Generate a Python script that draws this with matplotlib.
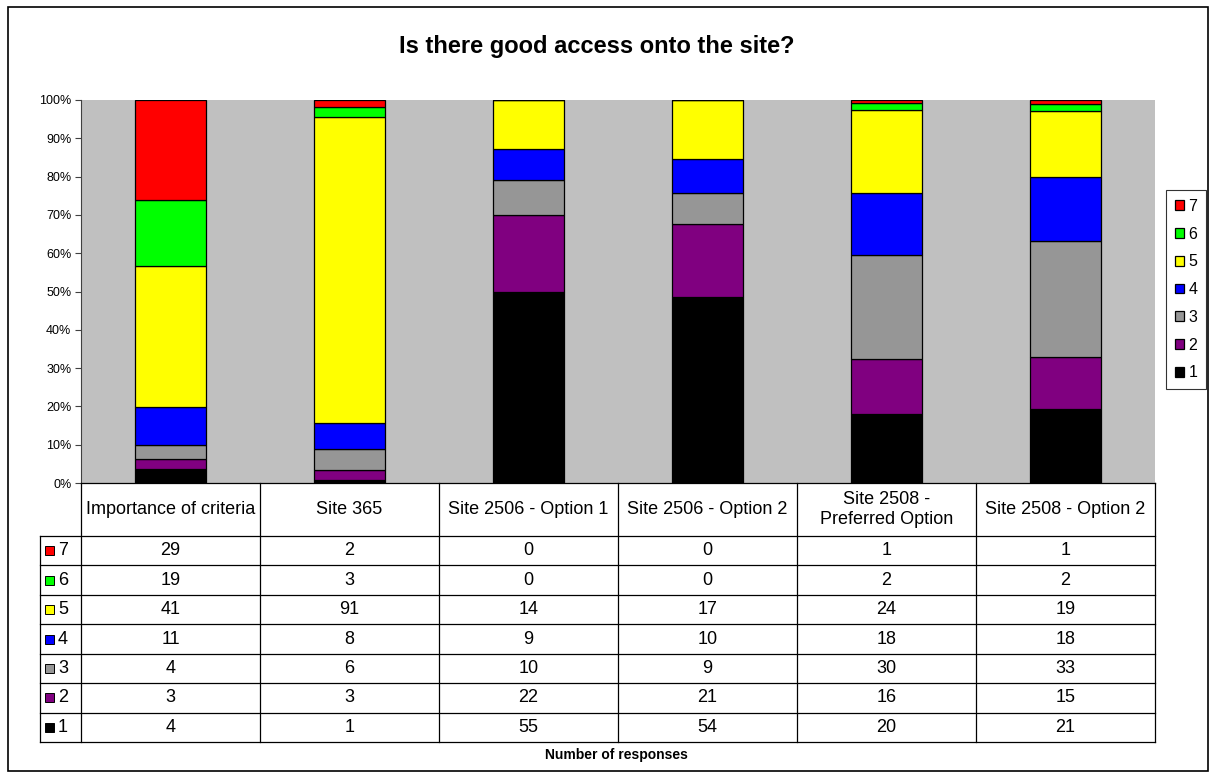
import matplotlib
matplotlib.use("Agg")
import numpy as np
import matplotlib.pyplot as plt
from matplotlib.patches import Rectangle
from matplotlib.ticker import PercentFormatter

plt.rcParams['font.family'] = ['Liberation Sans', 'DejaVu Sans']

# data
categories = ["Importance of criteria", "Site 365", "Site 2506 - Option 1",
              "Site 2506 - Option 2", "Site 2508 -\nPreferred Option", "Site 2508 - Option 2"]
score_labels = ["1", "2", "3", "4", "5", "6", "7"]
score_colors = ["#000000", "#800080", "#969696", "#0000FF", "#FFFF00", "#00FF00", "#FF0000"]
counts_1 = [4, 1, 55, 54, 20, 21]
counts_2 = [3, 3, 22, 21, 16, 15]
counts_3 = [4, 6, 10, 9, 30, 33]
counts_4 = [11, 8, 9, 10, 18, 18]
counts_5 = [41, 91, 14, 17, 24, 19]
counts_6 = [19, 3, 0, 0, 2, 2]
counts_7 = [29, 2, 0, 0, 1, 1]
counts = np.array([counts_1, counts_2, counts_3, counts_4, counts_5, counts_6, counts_7], dtype=float)

W, H = 1211, 776
fig = plt.figure(figsize=(W / 100, H / 100), dpi=100)

# plot area in pixels
px0, px1, py0, py1 = 81, 1155, 100, 483

def fr(x0, y0, x1, y1):
    return [x0 / W, 1 - y1 / H, (x1 - x0) / W, (y1 - y0) / H]

ax = fig.add_axes(fr(px0, py0, px1, py1))
ax.set_facecolor("#C0C0C0")
shares = counts / counts.sum(axis=0)
xpos = np.arange(len(categories))
bottom = np.zeros(len(categories))
for i in range(len(score_labels)):
    ax.bar(xpos, shares[i], 0.4, bottom=bottom, color=score_colors[i],
           edgecolor="black", linewidth=0.9, label=score_labels[i], zorder=3)
    bottom += shares[i]
ax.set_xlim(-0.5, len(categories) - 0.5)
ax.set_ylim(0, 1)
ax.set_yticks(np.arange(0, 1.01, 0.1))
ax.yaxis.set_major_formatter(PercentFormatter(1.0, decimals=0))
ax.tick_params(axis="y", labelsize=9, length=4, width=0.8, color="#404040", pad=3)
ax.set_xticks([])
for s in ["top", "right", "bottom"]:
    ax.spines[s].set_visible(False)
ax.spines["left"].set_color("#404040")

handles, labels = ax.get_legend_handles_labels()
leg = fig.legend(handles[::-1], labels[::-1], loc="upper left",
                 bbox_to_anchor=(1166 / W, 1 - 190 / H), fontsize=11.5,
                 frameon=True, fancybox=False, edgecolor="black",
                 handlelength=0.55, handleheight=0.55, handletextpad=0.3,
                 borderpad=0.55, labelspacing=0.8, borderaxespad=0)
leg.get_frame().set_linewidth(0.8)

# overlay axes in pixel coordinates for table, title and border
ov = fig.add_axes([0, 0, 1, 1])
ov.set_xlim(0, W)
ov.set_ylim(H, 0)
ov.axis("off")
ov.patch.set_alpha(0)

ov.add_patch(Rectangle((8, 7), 1200, 764, fill=False, edgecolor="black", linewidth=1.2))
ov.text(597, 46, "Is there good access onto the site?", ha="center", va="center",
        fontsize=17, fontweight="bold")
ov.text(616, 755, "Number of responses", ha="center", va="center",
        fontsize=10, fontweight="bold")

col_w = (px1 - px0) / len(categories)
head_top, head_bot = 483, 536
row_h = (742 - head_bot) / len(score_labels)
tab_left = 40
lw = 0.9
for j in range(len(categories) + 1):
    x = px0 + j * col_w
    ov.plot([x, x], [head_top, head_bot + row_h * len(score_labels)], color="black", lw=lw)
ov.plot([px0, px1], [head_top, head_top], color="black", lw=lw)
ov.plot([tab_left, tab_left], [head_bot, head_bot + row_h * len(score_labels)], color="black", lw=lw)
for r in range(len(score_labels) + 1):
    y = head_bot + r * row_h
    ov.plot([tab_left, px1], [y, y], color="black", lw=lw)

for j, cat in enumerate(categories):
    ov.text(px0 + (j + 0.5) * col_w, (head_top + head_bot) / 2, cat,
            ha="center", va="center", fontsize=13, linespacing=1.3)

for r in range(len(score_labels)):
    k = len(score_labels) - 1 - r
    yc = head_bot + (r + 0.5) * row_h
    ov.add_patch(Rectangle((45, yc - 4.5), 9, 9, facecolor=score_colors[k],
                           edgecolor="black", linewidth=0.7))
    ov.text(58, yc, score_labels[k], ha="left", va="center", fontsize=13)
    for j in range(len(categories)):
        ov.text(px0 + (j + 0.5) * col_w, yc, str(int(counts[k, j])),
                ha="center", va="center", fontsize=13)

fig.savefig("out.png", dpi=100)
